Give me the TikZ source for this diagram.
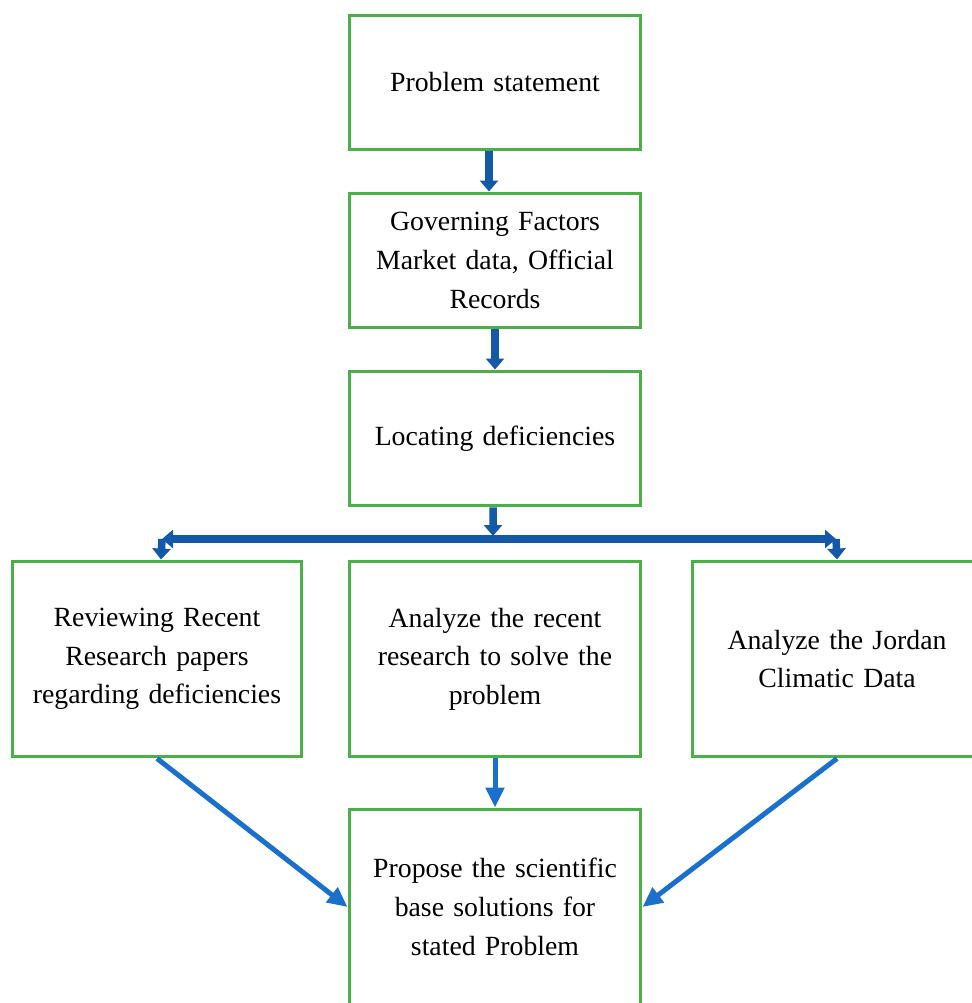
\documentclass[tikz,border=0pt]{standalone}
\usepackage{fontspec}
\setmainfont{Liberation Serif}
\usetikzlibrary{arrows.meta}
\definecolor{boxgreen}{RGB}{76,176,72}
\definecolor{darkblue}{RGB}{20,88,168}
\definecolor{lightblue}{RGB}{26,112,204}
\begin{document}
\begin{tikzpicture}[x=0.02cm, y=-0.02cm,
    font=\fontsize{15.8}{22}\selectfont,
    stepbox/.style={draw=boxgreen, line width=1.7pt, minimum width=5.84cm,
      minimum height=2.7cm, align=center, text width=5.4cm, inner sep=0pt},
    tallbox/.style={stepbox, minimum height=3.92cm, minimum width=5.8cm},
    bigarrow/.style={darkblue, line width=0.15cm, -{Triangle[width=0.36cm, length=0.22cm]}},
    thinarrow/.style={lightblue, line width=0.1cm, -{Triangle[width=0.36cm, length=0.4cm]}}]
  \useasboundingbox (0,0) rectangle (972,1003);
  % top column
  \node[stepbox] (prob) at (495,82.5) {Problem statement};
  \node[stepbox] (govern) at (495,260.5) {Governing Factors\\ Market data, Official\\ Records};
  \node[stepbox] (locate) at (495,438.5) {Locating deficiencies};
  % middle row
  \node[tallbox] (review) at (157,659) {Reviewing Recent\\ Research papers\\ regarding deficiencies};
  \node[tallbox, minimum width=5.84cm] (analyze) at (495,659) {Analyze the recent\\ research to solve the\\ problem};
  \node[tallbox] (jordan) at (837,659) {Analyze the Jordan\\ Climatic Data};
  \node[tallbox, minimum width=5.84cm] (propose) at (495,907) {Propose the scientific\\ base solutions for\\ stated Problem};
  % block arrows
  \draw[bigarrow] ([xshift=-0.12cm]prob.south) -- ([xshift=-0.12cm]govern.north);
  \draw[bigarrow] (govern.south) -- (locate.north);
  \coordinate (split) at (493,536);
  \coordinate (hl) at (162,539);
  \coordinate (hr) at (836,539);
  \draw[bigarrow] ([xshift=-0.04cm]locate.south) -- (split);
  \draw[bigarrow, {Triangle[width=0.36cm, length=0.22cm]}-{Triangle[width=0.36cm, length=0.22cm]}] (hl) -- (hr);
  \draw[bigarrow] (hl) -- ([xshift=0.08cm]review.north);
  \draw[bigarrow] (hr) -- (jordan.north);
  % thin arrows
  \draw[thinarrow] (review.south) -- (propose.west);
  \draw[thinarrow] (analyze.south) -- (propose.north);
  \draw[thinarrow] (jordan.south) -- (propose.east);
\end{tikzpicture}
\end{document}
